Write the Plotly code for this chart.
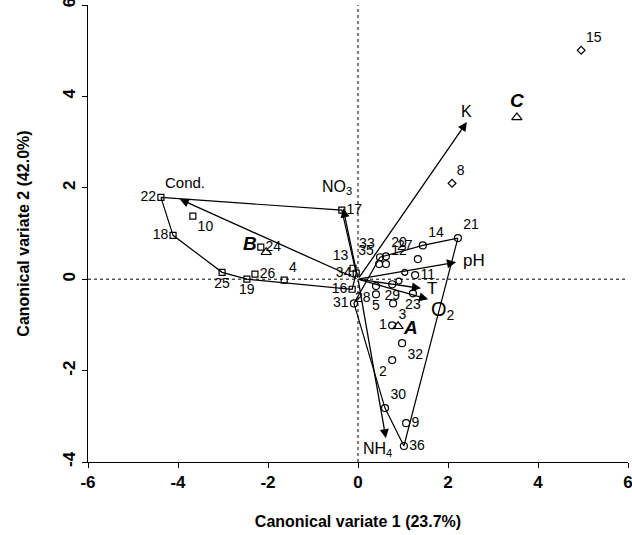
import plotly.graph_objects as go

# ---- site scores (canonical variate 1, 2) ----
site_ids = [1, 2, 3, 5, 9, 11, 12, 14, 20, 21, 23, 27, 28, 29, 30, 31, 32, 33, 35, 36,
            4, 10, 13, 16, 17, 18, 19, 22, 24, 25, 26, 34,
            8, 15]
site_x = [0.76, 0.76, 0.78, 0.40, 1.07, 1.27, 0.62, 1.44, 0.62, 2.22, 1.22, 1.33, 0.40, 0.76, 0.60, -0.09, 0.98, 0.49, 0.47, 1.02,
          -1.64, -3.67, -0.11, -0.13, -0.36, -4.11, -2.47, -4.38, -2.16, -3.02, -2.29, -0.04,
          2.09, 4.96]
site_y = [-1.01, -1.77, -0.53, -0.33, -3.15, 0.09, 0.33, 0.74, 0.50, 0.90, -0.31, 0.44, -0.15, -0.11, -2.82, -0.53, -1.40, 0.48, 0.33, -3.65,
          -0.02, 1.38, 0.24, -0.22, 1.51, 0.96, 0.00, 1.79, 0.70, 0.15, 0.11, 0.13,
          2.10, 5.01]
site_group = ["A"] * 20 + ["B"] * 12 + ["C"] * 2
site_textpos = ["middle left", "bottom left", "bottom right", "bottom center", "middle right", "middle right",
                "top right", "top right", "top right", "top right", "bottom center", "top left", "bottom left",
                "bottom center", "top right", "middle left", "bottom right", "top left", "top left", "middle right",
                "top right", "bottom right", "top left", "middle left", "middle right", "middle left",
                "bottom center", "middle left", "middle right", "bottom center", "middle right", "middle left",
                "top right", "top right"]

# unlabeled sample points
extra_x = [0.91, 1.04]
extra_y = [-0.04, 0.15]

# ---- group centroids ----
cent_names = ["A", "B", "C"]
cent_x = [0.89, -2.04, 3.53]
cent_y = [-1.03, 0.59, 3.54]

# ---- hull outlines (site ids) ----
hull_A = [21, 36, 30, 31, 33, 14, 21]
hull_B = [22, 17, 34, 16, 19, 25, 18, 22]

# ---- environmental vectors ----
env_names = ["Cond.", "NO<sub>3</sub>", "K", "pH", "T", "O<sub>2</sub>", "NH<sub>4</sub>"]
env_x = [-3.96, -0.33, 2.42, 2.18, 1.40, 1.56, 0.62]
env_y = [1.75, 1.55, 3.44, 0.37, -0.20, -0.44, -3.48]
env_label_x = [-3.85, -0.47, 2.42, 2.58, 1.64, 1.88, 0.44]
env_label_y = [2.12, 2.00, 3.67, 0.40, -0.20, -0.68, -3.72]
env_label_size = [15, 16, 16, 17, 17, 20, 16]

# ---- tick labels ----
x_ticks = [-6, -4, -2, 0, 2, 4, 6]
y_ticks = [-4, -2, 0, 2, 4, 6]

pos = {sid: (x, y) for sid, x, y in zip(site_ids, site_x, site_y)}

fig = go.Figure()

# zero reference lines
fig.add_trace(go.Scatter(x=[-6, 6], y=[0, 0], mode="lines",
                         line=dict(color="black", width=1, dash="dot"), hoverinfo="skip"))
fig.add_trace(go.Scatter(x=[0, 0], y=[-4, 6], mode="lines",
                         line=dict(color="black", width=1, dash="dot"), hoverinfo="skip"))

# hulls
for hull in (hull_A, hull_B):
    fig.add_trace(go.Scatter(x=[pos[s][0] for s in hull], y=[pos[s][1] for s in hull],
                             mode="lines", line=dict(color="black", width=1.2), hoverinfo="skip"))

symbols = {"A": ("circle-open", 7), "B": ("square-open", 6), "C": ("diamond-open", 6)}
for g in ["A", "B", "C"]:
    idx = [i for i, gg in enumerate(site_group) if gg == g]
    fig.add_trace(go.Scatter(
        x=[site_x[i] for i in idx], y=[site_y[i] for i in idx],
        mode="markers+text",
        text=[str(site_ids[i]) for i in idx],
        textposition=[site_textpos[i] for i in idx],
        textfont=dict(family="Liberation Sans", size=14, color="black"),
        marker=dict(symbol=symbols[g][0], size=symbols[g][1], color="black",
                    line=dict(color="black", width=1.2)),
    ))

fig.add_trace(go.Scatter(x=extra_x, y=extra_y, mode="markers",
                         marker=dict(symbol="circle-open", size=6, color="black",
                                     line=dict(color="black", width=1.2))))

# centroids
fig.add_trace(go.Scatter(x=cent_x, y=cent_y, mode="markers",
                         marker=dict(symbol="triangle-up-open", size=9, color="black",
                                     line=dict(color="black", width=1.2))))
cent_lab_pos = [(0.28, -0.02), (-0.36, 0.2), (0.0, 0.38)]
for n, x, y, (dx, dy) in zip(cent_names, cent_x, cent_y, cent_lab_pos):
    fig.add_annotation(x=x + dx, y=y + dy, text=f"<b><i>{n}</i></b>", showarrow=False,
                       font=dict(family="Liberation Sans", size=19, color="black"))

# arrows
for ex, ey in zip(env_x, env_y):
    fig.add_annotation(x=ex, y=ey, ax=0, ay=0, axref="x", ayref="y", xref="x", yref="y",
                       text="", showarrow=True, arrowhead=2, arrowsize=1.4, arrowwidth=1.3,
                       arrowcolor="black", standoff=0)
for n, lx, ly, s in zip(env_names, env_label_x, env_label_y, env_label_size):
    fig.add_annotation(x=lx, y=ly, text=n, showarrow=False,
                       font=dict(family="Liberation Sans", size=s, color="black"))

fig.update_layout(
    width=632, height=535,
    margin=dict(l=88, r=4, t=5, b=73),
    paper_bgcolor="white", plot_bgcolor="white",
    showlegend=False,
    font=dict(family="Liberation Sans", color="black"),
    xaxis=dict(range=[-6, 6], tickvals=x_ticks, ticktext=[str(v) for v in x_ticks],
               showgrid=False, zeroline=False, automargin=False, ticklabeloverflow="allow",
               showline=True, linecolor="black", linewidth=1, ticks="outside", ticklen=5,
               tickcolor="black",
               tickfont=dict(family="Liberation Sans", size=17, color="black", weight="bold"),
               title=dict(text="Canonical variate 1 (23.7%)", standoff=24,
                          font=dict(family="Liberation Sans", size=16, color="black", weight="bold"))),
    yaxis=dict(range=[-4, 6], tickvals=y_ticks, ticktext=[str(v) for v in y_ticks],
               showgrid=False, zeroline=False, automargin=False, ticklabeloverflow="allow",
               showline=True, linecolor="black", linewidth=1, ticks="outside", ticklen=5,
               tickcolor="black", tickangle=-90,
               tickfont=dict(family="Liberation Sans", size=17, color="black", weight="bold"),
               title=dict(text="Canonical variate 2 (42.0%)", standoff=26,
                          font=dict(family="Liberation Sans", size=16, color="black", weight="bold"))),
)

fig.write_html("out.html", config={"displayModeBar": False},
               post_script="document.body.style.margin='0';")
